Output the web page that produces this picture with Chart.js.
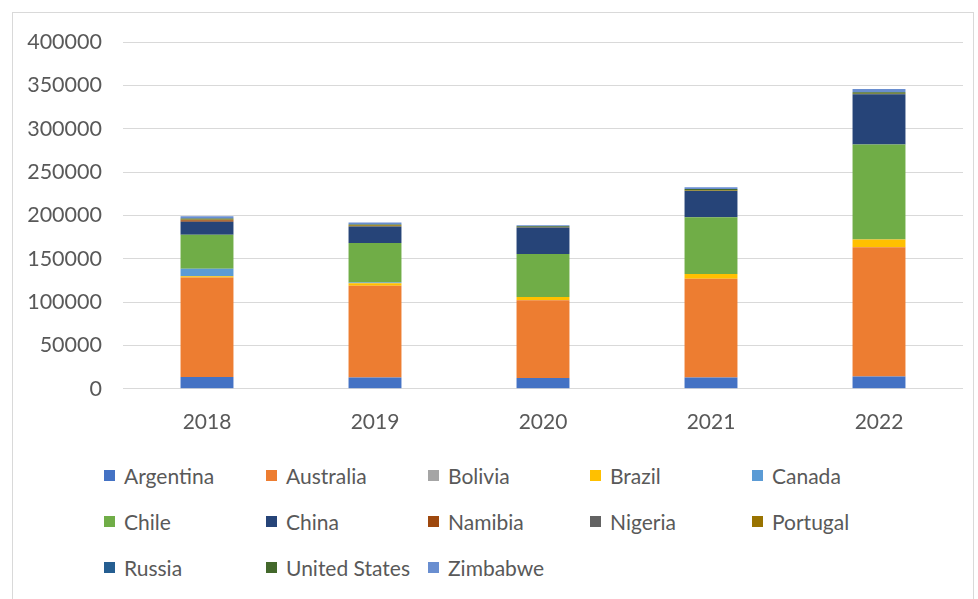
<!DOCTYPE html>
<html>
<head>
<meta charset="utf-8">
<script src="https://cdn.jsdelivr.net/npm/chart.js@4/dist/chart.umd.min.js"></script>
<style>
  html, body { margin: 0; padding: 0; background: #fff; }
  body { width: 978px; height: 599px; position: relative; overflow: hidden; font-family: Lato, "Open Sans", sans-serif; }
  #frame { position: absolute; left: 12px; top: 12px; width: 962px; height: 600px; border: 1px solid #d9d9d9; box-sizing: border-box; }
  #wrap { position: absolute; left: 0; top: 0; width: 978px; height: 448px; }
  #legend { position: absolute; left: 104px; top: 462px; display: grid; grid-template-columns: repeat(5, 162px); row-gap: 20px; }
  .item { display: flex; align-items: center; height: 26px; font-size: 21px; color: #595959; white-space: nowrap; }
  .box { width: 11px; height: 11px; margin-right: 9px; flex: none; }
</style>
</head>
<body>
<div id="frame"></div>
<div id="wrap"><canvas id="chart"></canvas></div>
<div id="legend"></div>
<script>
const years = ["2018", "2019", "2020", "2021", "2022"];

const countries = [
  "Argentina", "Australia", "Bolivia", "Brazil", "Canada", "Chile", "China",
  "Namibia", "Nigeria", "Portugal", "Russia", "United States", "Zimbabwe",
];

const colors = [
  "#4472C4", "#ED7D31", "#A5A5A5", "#FFC000", "#5B9BD5", "#70AD47", "#264478",
  "#9E480E", "#636363", "#997300", "#255E91", "#43682B", "#698ED0",
];

const argentina = [13500, 13000, 12500, 13000, 14200];
const australia = [115000, 106000, 89500, 114000, 149000];
const bolivia = [0, 0, 0, 0, 0];
const brazil = [1200, 2800, 3800, 5500, 8900];
const canada = [8800, 800, 0, 0, 0];
const chile = [39300, 45500, 49700, 65500, 109800];
const china = [15000, 19000, 30400, 30000, 57800];
const namibia = [1500, 0, 0, 0, 0];
const nigeria = [0, 0, 0, 0, 0];
const portugal = [1000, 1500, 800, 600, 600];
const russia = [0, 0, 0, 0, 0];
const unitedStates = [1200, 800, 800, 1800, 1800];
const zimbabwe = [2600, 2300, 1000, 2000, 3600];

const yTicks = [0, 50000, 100000, 150000, 200000, 250000, 300000, 350000, 400000];

const series = [
  argentina, australia, bolivia, brazil, canada, chile, china,
  namibia, nigeria, portugal, russia, unitedStates, zimbabwe,
];

const textColor = "#595959";
const gridColor = "#d9d9d9";

new Chart(document.getElementById("chart"), {
  type: "bar",
  data: {
    labels: years,
    datasets: countries.map((name, i) => ({
      label: name,
      data: series[i],
      backgroundColor: colors[i],
      borderWidth: 0,
      barPercentage: 0.315,
      categoryPercentage: 1,
    })),
  },
  options: {
    responsive: true,
    maintainAspectRatio: false,
    animation: false,
    layout: { padding: { top: 42, right: 15, left: 0, bottom: 0 } },
    plugins: {
      legend: { display: false },
      tooltip: { enabled: false },
    },
    scales: {
      x: {
        stacked: true,
        grid: { display: false },
        border: { display: false },
        ticks: { color: textColor, font: { family: "Lato", size: 21 }, padding: 13 },
      },
      y: {
        stacked: true,
        min: 0,
        max: yTicks[yTicks.length - 1],
        afterBuildTicks: (scale) => {
          scale.ticks = yTicks.map((v) => ({ value: v }));
        },
        afterFit: (scale) => {
          scale.width = 123;
        },
        grid: { color: gridColor, lineWidth: 1, drawTicks: false },
        border: { display: false },
        ticks: {
          color: textColor,
          font: { family: "Lato", size: 21.5 },
          padding: 21,
          callback: (v) => String(v),
        },
      },
    },
  },
});

const legend = document.getElementById("legend");
countries.forEach((name, i) => {
  const item = document.createElement("div");
  item.className = "item";
  const box = document.createElement("span");
  box.className = "box";
  box.style.background = colors[i];
  const label = document.createElement("span");
  label.textContent = name;
  item.appendChild(box);
  item.appendChild(label);
  legend.appendChild(item);
});
</script>
</body>
</html>
